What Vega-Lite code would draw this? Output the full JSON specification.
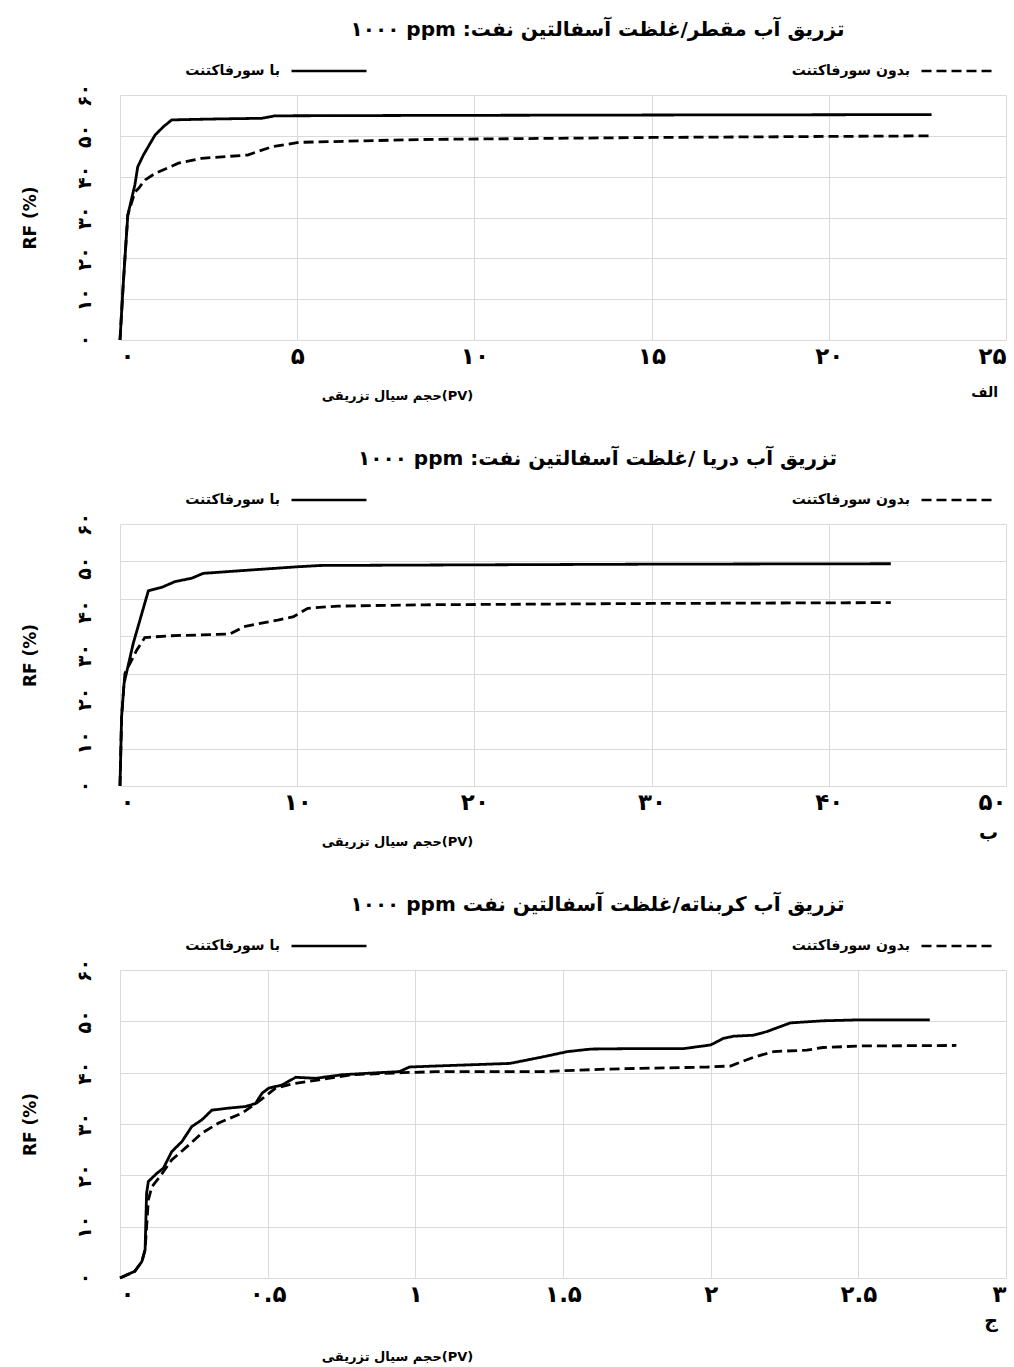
{
  "$schema": "https://vega.github.io/schema/vega-lite/v6.json",
  "background": "white",
  "padding": {"left": 20, "top": 20, "right": 5, "bottom": 2},
  "spacing": 47,
  "resolve": {"scale": {"strokeDash": "independent"}, "legend": {"strokeDash": "independent"}},
  "config": {
    "font": "DejaVu Sans",
    "view": {"stroke": null},
    "axis": {"gridColor": "#dadada", "gridWidth": 1, "domain": false, "ticks": false, "labelFont": "DejaVu Sans", "labelFontWeight": "bold", "labelColor": "black", "titleColor": "black", "titleFont": "DejaVu Sans"},
    "title": {"font": "DejaVu Sans", "fontWeight": "bold", "color": "black"},
    "legend": {"orient": "none", "direction": "horizontal", "columns": 2, "columnPadding": 419, "symbolType": "stroke", "symbolSize": 5625, "symbolStrokeWidth": 2.5, "symbolStrokeColor": "black", "labelAlign": "right", "labelOffset": -88, "labelFontSize": 14, "labelFontWeight": "bold", "labelColor": "black", "labelLimit": 0, "labelFont": "DejaVu Sans"}
  },
  "datasets": {
    "p1": [
      {"series": "با سورفاکتنت", "pv": 0, "rf": 0}, {"series": "با سورفاکتنت", "pv": 0.09, "rf": 13.5}, {"series": "با سورفاکتنت", "pv": 0.22, "rf": 30.6}, {"series": "با سورفاکتنت", "pv": 0.42, "rf": 38}, {"series": "با سورفاکتنت", "pv": 0.5, "rf": 42.4}, {"series": "با سورفاکتنت", "pv": 0.66, "rf": 45.3}, {"series": "با سورفاکتنت", "pv": 0.99, "rf": 50.2}, {"series": "با سورفاکتنت", "pv": 1.22, "rf": 52.2}, {"series": "با سورفاکتنت", "pv": 1.46, "rf": 53.9}, {"series": "با سورفاکتنت", "pv": 2.5, "rf": 54.1}, {"series": "با سورفاکتنت", "pv": 4.0, "rf": 54.3}, {"series": "با سورفاکتنت", "pv": 4.38, "rf": 54.9}, {"series": "با سورفاکتنت", "pv": 8.5, "rf": 55.0}, {"series": "با سورفاکتنت", "pv": 15, "rf": 55.1}, {"series": "با سورفاکتنت", "pv": 22.9, "rf": 55.2},
      {"series": "بدون سورفاکتنت", "pv": 0, "rf": 0}, {"series": "بدون سورفاکتنت", "pv": 0.09, "rf": 13.5}, {"series": "بدون سورفاکتنت", "pv": 0.22, "rf": 30.6}, {"series": "بدون سورفاکتنت", "pv": 0.42, "rf": 36.2}, {"series": "بدون سورفاکتنت", "pv": 0.52, "rf": 37.1}, {"series": "بدون سورفاکتنت", "pv": 0.71, "rf": 39.2}, {"series": "بدون سورفاکتنت", "pv": 0.99, "rf": 40.8}, {"series": "بدون سورفاکتنت", "pv": 1.65, "rf": 43.3}, {"series": "بدون سورفاکتنت", "pv": 2.3, "rf": 44.5}, {"series": "بدون سورفاکتنت", "pv": 3.6, "rf": 45.3}, {"series": "بدون سورفاکتنت", "pv": 4.28, "rf": 47.3}, {"series": "بدون سورفاکتنت", "pv": 5.04, "rf": 48.4}, {"series": "بدون سورفاکتنت", "pv": 8.5, "rf": 49.1}, {"series": "بدون سورفاکتنت", "pv": 15, "rf": 49.6}, {"series": "بدون سورفاکتنت", "pv": 22.9, "rf": 50}
    ],
    "p2": [
      {"series": "با سورفاکتنت", "pv": 0, "rf": 0}, {"series": "با سورفاکتنت", "pv": 0.09, "rf": 15.9}, {"series": "با سورفاکتنت", "pv": 0.23, "rf": 23.5}, {"series": "با سورفاکتنت", "pv": 0.75, "rf": 32.7}, {"series": "با سورفاکتنت", "pv": 1.6, "rf": 44.7}, {"series": "با سورفاکتنت", "pv": 2.36, "rf": 45.5}, {"series": "با سورفاکتنت", "pv": 3.1, "rf": 46.8}, {"series": "با سورفاکتنت", "pv": 4.06, "rf": 47.6}, {"series": "با سورفاکتنت", "pv": 4.7, "rf": 48.7}, {"series": "با سورفاکتنت", "pv": 7.5, "rf": 49.5}, {"series": "با سورفاکتنت", "pv": 10, "rf": 50.2}, {"series": "با سورفاکتنت", "pv": 11.3, "rf": 50.5}, {"series": "با سورفاکتنت", "pv": 17.2, "rf": 50.6}, {"series": "با سورفاکتنت", "pv": 30, "rf": 50.8}, {"series": "با سورفاکتنت", "pv": 43.5, "rf": 50.9},
      {"series": "بدون سورفاکتنت", "pv": 0, "rf": 0}, {"series": "بدون سورفاکتنت", "pv": 0.09, "rf": 15.9}, {"series": "بدون سورفاکتنت", "pv": 0.23, "rf": 23.5}, {"series": "بدون سورفاکتنت", "pv": 0.28, "rf": 25.8}, {"series": "بدون سورفاکتنت", "pv": 0.94, "rf": 31.1}, {"series": "بدون سورفاکتنت", "pv": 1.4, "rf": 34}, {"series": "بدون سورفاکتنت", "pv": 2.83, "rf": 34.4}, {"series": "بدون سورفاکتنت", "pv": 6.2, "rf": 34.8}, {"series": "بدون سورفاکتنت", "pv": 7, "rf": 36.5}, {"series": "بدون سورفاکتنت", "pv": 8.9, "rf": 38}, {"series": "بدون سورفاکتنت", "pv": 9.8, "rf": 38.8}, {"series": "بدون سورفاکتنت", "pv": 10.6, "rf": 40.7}, {"series": "بدون سورفاکتنت", "pv": 12.3, "rf": 41.2}, {"series": "بدون سورفاکتنت", "pv": 17.2, "rf": 41.5}, {"series": "بدون سورفاکتنت", "pv": 30, "rf": 41.8}, {"series": "بدون سورفاکتنت", "pv": 43.5, "rf": 42}
    ],
    "p3": [
      {"series": "با سورفاکتنت", "pv": 0, "rf": 0}, {"series": "با سورفاکتنت", "pv": 0.05, "rf": 1.3}, {"series": "با سورفاکتنت", "pv": 0.074, "rf": 3.2}, {"series": "با سورفاکتنت", "pv": 0.085, "rf": 5.5}, {"series": "با سورفاکتنت", "pv": 0.09, "rf": 16.5}, {"series": "با سورفاکتنت", "pv": 0.096, "rf": 18.8}, {"series": "با سورفاکتنت", "pv": 0.125, "rf": 20.4}, {"series": "با سورفاکتنت", "pv": 0.147, "rf": 21.4}, {"series": "با سورفاکتنت", "pv": 0.175, "rf": 24.6}, {"series": "با سورفاکتنت", "pv": 0.21, "rf": 26.6}, {"series": "با سورفاکتنت", "pv": 0.243, "rf": 29.5}, {"series": "با سورفاکتنت", "pv": 0.277, "rf": 30.8}, {"series": "با سورفاکتنت", "pv": 0.311, "rf": 32.7}, {"series": "با سورفاکتنت", "pv": 0.368, "rf": 33.1}, {"series": "با سورفاکتنت", "pv": 0.425, "rf": 33.4}, {"series": "با سورفاکتنت", "pv": 0.459, "rf": 34}, {"series": "با سورفاکتنت", "pv": 0.481, "rf": 36}, {"series": "با سورفاکتنت", "pv": 0.504, "rf": 37}, {"series": "با سورفاکتنت", "pv": 0.549, "rf": 37.6}, {"series": "با سورفاکتنت", "pv": 0.595, "rf": 39.1}, {"series": "با سورفاکتنت", "pv": 0.662, "rf": 38.9}, {"series": "با سورفاکتنت", "pv": 0.753, "rf": 39.6}, {"series": "با سورفاکتنت", "pv": 0.844, "rf": 39.9}, {"series": "با سورفاکتنت", "pv": 0.946, "rf": 40.2}, {"series": "با سورفاکتنت", "pv": 0.98, "rf": 41.1}, {"series": "با سورفاکتنت", "pv": 1.07, "rf": 41.3}, {"series": "با سورفاکتنت", "pv": 1.32, "rf": 41.8}, {"series": "با سورفاکتنت", "pv": 1.425, "rf": 43.0}, {"series": "با سورفاکتنت", "pv": 1.515, "rf": 44.1}, {"series": "با سورفاکتنت", "pv": 1.594, "rf": 44.6}, {"series": "با سورفاکتنت", "pv": 1.76, "rf": 44.7}, {"series": "با سورفاکتنت", "pv": 1.91, "rf": 44.7}, {"series": "با سورفاکتنت", "pv": 2.0, "rf": 45.4}, {"series": "با سورفاکتنت", "pv": 2.044, "rf": 46.7}, {"series": "با سورفاکتنت", "pv": 2.078, "rf": 47.1}, {"series": "با سورفاکتنت", "pv": 2.145, "rf": 47.3}, {"series": "با سورفاکتنت", "pv": 2.19, "rf": 48}, {"series": "با سورفاکتنت", "pv": 2.27, "rf": 49.7}, {"series": "با سورفاکتنت", "pv": 2.38, "rf": 50.1}, {"series": "با سورفاکتنت", "pv": 2.506, "rf": 50.3}, {"series": "با سورفاکتنت", "pv": 2.742, "rf": 50.3},
      {"series": "بدون سورفاکتنت", "pv": 0, "rf": 0}, {"series": "بدون سورفاکتنت", "pv": 0.05, "rf": 1.3}, {"series": "بدون سورفاکتنت", "pv": 0.074, "rf": 3.2}, {"series": "بدون سورفاکتنت", "pv": 0.085, "rf": 5.5}, {"series": "بدون سورفاکتنت", "pv": 0.096, "rf": 15.2}, {"series": "بدون سورفاکتنت", "pv": 0.108, "rf": 17.8}, {"series": "بدون سورفاکتنت", "pv": 0.136, "rf": 19.8}, {"series": "بدون سورفاکتنت", "pv": 0.175, "rf": 23}, {"series": "بدون سورفاکتنت", "pv": 0.221, "rf": 25.3}, {"series": "بدون سورفاکتنت", "pv": 0.277, "rf": 28.2}, {"series": "بدون سورفاکتنت", "pv": 0.334, "rf": 30.2}, {"series": "بدون سورفاکتنت", "pv": 0.413, "rf": 32.1}, {"series": "بدون سورفاکتنت", "pv": 0.47, "rf": 34.4}, {"series": "بدون سورفاکتنت", "pv": 0.527, "rf": 37}, {"series": "بدون سورفاکتنت", "pv": 0.583, "rf": 37.8}, {"series": "بدون سورفاکتنت", "pv": 0.674, "rf": 38.6}, {"series": "بدون سورفاکتنت", "pv": 0.787, "rf": 39.6}, {"series": "بدون سورفاکتنت", "pv": 0.957, "rf": 40}, {"series": "بدون سورفاکتنت", "pv": 1.07, "rf": 40.2}, {"series": "بدون سورفاکتنت", "pv": 1.425, "rf": 40.2}, {"series": "بدون سورفاکتنت", "pv": 1.65, "rf": 40.7}, {"series": "بدون سورفاکتنت", "pv": 1.99, "rf": 41.1}, {"series": "بدون سورفاکتنت", "pv": 2.067, "rf": 41.3}, {"series": "بدون سورفاکتنت", "pv": 2.145, "rf": 43}, {"series": "بدون سورفاکتنت", "pv": 2.213, "rf": 44.1}, {"series": "بدون سورفاکتنت", "pv": 2.326, "rf": 44.4}, {"series": "بدون سورفاکتنت", "pv": 2.38, "rf": 44.9}, {"series": "بدون سورفاکتنت", "pv": 2.506, "rf": 45.2}, {"series": "بدون سورفاکتنت", "pv": 2.832, "rf": 45.3}
    ]
  },
  "vconcat": [
    {
      "title": {"text": "۱۰۰۰ ppm  تزریق آب مقطر/غلظت آسفالتین نفت:‏", "fontSize": 20, "anchor": "middle", "dx": 84, "offset": -8},
      "resolve": {"scale": {"strokeDash": "independent"}, "legend": {"strokeDash": "independent"}},
      "vconcat": [
        {
          "width": 886, "height": 245,
          "title": {"text": "الف", "orient": "bottom", "anchor": "end", "offset": -16, "fontSize": 14, "dx": -8},
          "data": {"name": "p1"},
          "mark": {"type": "line", "color": "black", "strokeWidth": 2.8},
          "encoding": {
            "x": {"field": "pv", "type": "quantitative", "scale": {"domain": [0, 25], "nice": false},
              "axis": {"values": [0, 5, 10, 15, 20, 25], "labelExpr": "replace(replace(replace(replace(replace(replace(replace(replace(replace(replace(''+datum.value,'0','۰'),'1','۱'),'2','۲'),'3','۳'),'4','۴'),'5','۵'),'6','۶'),'7','۷'),'8','۸'),'9','۹')", "labelFontSize": 23, "labelPadding": 5, "title": "حجم سیال تزریقی(PV)", "titleFontSize": 13, "titleFontWeight": "bold", "titleX": 277, "titlePadding": 21}},
            "y": {"field": "rf", "type": "quantitative", "scale": {"domain": [0, 60], "nice": false},
              "axis": {"values": [0, 10, 20, 30, 40, 50, 60], "labelExpr": "replace(replace(replace(replace(replace(replace(replace(replace(replace(replace(''+datum.value,'0','۰'),'1','۱'),'2','۲'),'3','۳'),'4','۴'),'5','۵'),'6','۶'),'7','۷'),'8','۸'),'9','۹')", "labelAngle": -90, "labelFontSize": 19, "labelPadding": 26, "title": "RF (%)", "titleFontSize": 17, "titleFontWeight": "bold", "titlePadding": 36}},
            "strokeDash": {"field": "series", "type": "nominal", "scale": {"domain": ["با سورفاکتنت", "بدون سورفاکتنت"], "range": [[1, 0], [10, 5]]}, "legend": {"title": null, "orient": "none", "legendX": 170, "legendY": -63}}
          }
        }
      ]
    },
    {
      "title": {"text": "۱۰۰۰ ppm  تزریق آب دریا /غلظت آسفالتین نفت:‏", "fontSize": 20, "anchor": "middle", "dx": 84, "offset": -8},
      "resolve": {"scale": {"strokeDash": "independent"}, "legend": {"strokeDash": "independent"}},
      "vconcat": [
        {
          "width": 886, "height": 262,
          "title": {"text": "ب", "orient": "bottom", "anchor": "end", "offset": -24, "fontSize": 19, "dx": -8},
          "data": {"name": "p2"},
          "encoding": {
            "x": {"field": "pv", "type": "quantitative", "scale": {"domain": [0, 50], "nice": false},
              "axis": {"values": [0, 10, 20, 30, 40, 50], "labelExpr": "replace(replace(replace(replace(replace(replace(replace(replace(replace(replace(''+datum.value,'0','۰'),'1','۱'),'2','۲'),'3','۳'),'4','۴'),'5','۵'),'6','۶'),'7','۷'),'8','۸'),'9','۹')", "labelFontSize": 23, "labelPadding": 5, "title": "حجم سیال تزریقی(PV)", "titleFontSize": 13, "titleFontWeight": "bold", "titleX": 277, "titlePadding": 21}}
          },
          "layer": [
            {
              "mark": {"type": "line", "color": "black", "strokeWidth": 2.8},
              "encoding": {
                "y": {"field": "rf", "type": "quantitative", "scale": {"domain": [0, 60], "nice": false},
                  "axis": {"orient": "left", "values": [0, 8.5714, 17.1429, 25.7143, 34.2857, 42.8571, 51.4286, 60], "labels": false, "title": null, "grid": true}},
                "strokeDash": {"field": "series", "type": "nominal", "scale": {"domain": ["با سورفاکتنت", "بدون سورفاکتنت"], "range": [[1, 0], [10, 5]]}, "legend": {"title": null, "orient": "none", "legendX": 170, "legendY": -63}}
              }
            },
            {
              "mark": {"type": "line", "color": "black", "opacity": 0},
              "encoding": {
                "y": {"field": "rf", "type": "quantitative",
                  "axis": {"orient": "left", "grid": false, "values": [0, 10, 20, 30, 40, 50, 60], "labelExpr": "replace(replace(replace(replace(replace(replace(replace(replace(replace(replace(''+datum.value,'0','۰'),'1','۱'),'2','۲'),'3','۳'),'4','۴'),'5','۵'),'6','۶'),'7','۷'),'8','۸'),'9','۹')", "labelAngle": -90, "labelFontSize": 19, "labelPadding": 26, "title": "RF (%)", "titleFontSize": 17, "titleFontWeight": "bold", "titlePadding": 36}},
                "detail": {"field": "series"}
              }
            }
          ],
          "resolve": {"axis": {"y": "independent"}}
        }
      ]
    },
    {
      "title": {"text": "۱۰۰۰ ppm  تزریق آب کربناته/غلظت آسفالتین نفت", "fontSize": 20, "anchor": "middle", "dx": 84, "offset": -8},
      "resolve": {"scale": {"strokeDash": "independent"}, "legend": {"strokeDash": "independent"}},
      "vconcat": [
        {
          "width": 886, "height": 308,
          "title": {"text": "ج", "orient": "bottom", "anchor": "end", "offset": -51, "fontSize": 19, "dx": -8},
          "data": {"name": "p3"},
          "mark": {"type": "line", "color": "black", "strokeWidth": 2.8},
          "encoding": {
            "x": {"field": "pv", "type": "quantitative", "scale": {"domain": [0, 3], "nice": false},
              "axis": {"values": [0, 0.5, 1, 1.5, 2, 2.5, 3], "labelExpr": "replace(replace(replace(replace(replace(replace(replace(replace(replace(replace(''+datum.value,'0','۰'),'1','۱'),'2','۲'),'3','۳'),'4','۴'),'5','۵'),'6','۶'),'7','۷'),'8','۸'),'9','۹')", "labelFontSize": 23, "labelPadding": 5, "title": "حجم سیال تزریقی(PV)", "titleFontSize": 13, "titleFontWeight": "bold", "titleX": 277, "titlePadding": 44}},
            "y": {"field": "rf", "type": "quantitative", "scale": {"domain": [0, 60], "nice": false},
              "axis": {"values": [0, 10, 20, 30, 40, 50, 60], "labelExpr": "replace(replace(replace(replace(replace(replace(replace(replace(replace(replace(''+datum.value,'0','۰'),'1','۱'),'2','۲'),'3','۳'),'4','۴'),'5','۵'),'6','۶'),'7','۷'),'8','۸'),'9','۹')", "labelAngle": -90, "labelFontSize": 19, "labelPadding": 26, "title": "RF (%)", "titleFontSize": 17, "titleFontWeight": "bold", "titlePadding": 36}},
            "strokeDash": {"field": "series", "type": "nominal", "scale": {"domain": ["با سورفاکتنت", "بدون سورفاکتنت"], "range": [[1, 0], [10, 5]]}, "legend": {"title": null, "orient": "none", "legendX": 170, "legendY": -63}}
          }
        }
      ]
    }
  ]
}
